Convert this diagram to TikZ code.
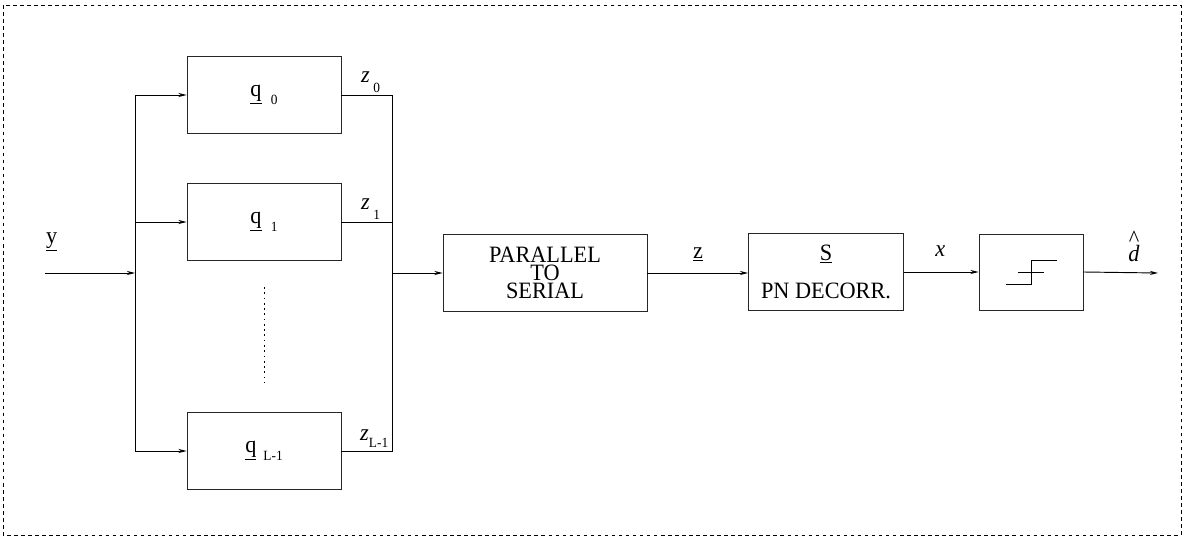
\documentclass[tikz,border=0pt]{standalone}
\usepackage{fontspec}
\setmainfont{Liberation Serif}[FakeStretch=0.95]
\usetikzlibrary{arrows.meta}

\newcommand{\sbs}[1]{{\fontsize{12}{12}\selectfont #1}}

\begin{document}
\begin{tikzpicture}[
        x=0.03cm, y=-0.03cm,
        font=\fontsize{20}{15.5}\selectfont,
        filt/.style={rectangle, draw=black!85, line width=0.8pt,
            minimum width=4.62cm, minimum height=2.31cm, inner sep=0pt},
        blk/.style={rectangle, draw=black!85, line width=0.8pt,
            align=center, minimum height=2.3cm, inner sep=0pt},
        lbl/.style={anchor=base west, inner sep=0pt},
        wire/.style={line width=0.8pt},
        arr/.style={-{Stealth[length=7pt,width=3.5pt]}, line width=0.8pt}
    ]
    \useasboundingbox (0,0) rectangle (1186,543);
    \draw[dash pattern=on 3pt off 3pt, line width=0.6pt] (3,5) rectangle (1181,535);

    % filter bank
    \node[filt] (q0) at (264,95)  {\underline{q}\hspace{8pt}\raisebox{-7pt}{\sbs{0}}};
    \node[filt] (q1) at (264,222) {\underline{q}\hspace{8pt}\raisebox{-7pt}{\sbs{1}}};
    \node[filt] (qL) at (264,451) {\underline{q}\hspace{6pt}\raisebox{-7pt}{\sbs{L-1}}};
    \coordinate (dtop) at (264,287);
    \coordinate (dbot) at (264,382);
    \draw[dash pattern=on 1.5pt off 3pt, line width=0.7pt] (dtop) -- (dbot);

    % serial chain
    \node[blk, minimum width=6.12cm] (ps) at (545,273) {PARALLEL\\TO\\SERIAL};
    \node[blk, minimum width=4.65cm] (dec) at (826,272) {\underline{S}\\[17pt]PN DECORR.};
    \node[blk, minimum width=3.12cm, minimum height=2.28cm] (slc) at (1031,272) {};

    % slicer symbol
    \draw[line width=0.7pt] (1006,284) -- (1031,284) -- (1031,260) -- (1057,260);
    \draw[line width=0.6pt] (1018,272) -- (1044,272);

    \coordinate (yin) at (45,273);
    \coordinate (lb)  at (135,273);
    \coordinate (rb)  at (392,273);
    \coordinate (dout) at (1158,273);

    \draw[arr] (yin) -- (lb);
    \draw[arr] (lb) |- (q0.west);
    \draw[arr] (lb) |- (q1.west);
    \draw[arr] (lb) |- (qL.west);
    \draw[wire] (q0.east) -| (rb);
    \draw[wire] (q1.east) -| (rb);
    \draw[wire] (qL.east) -| (rb);
    \draw[arr] (rb) -- (ps.west);
    \draw[arr] (ps.east) -- (ps.east -| dec.west);
    \draw[arr] (dec.east) -- (dec.east -| slc.west);
    \draw[arr] (slc.east) -- (dout);

    % labels
    \node[lbl] (ylab) at (46,244) {\underline{y}};
    \node[lbl] (z0) at (361,83)  {\textit{z}\hspace{3pt}\raisebox{-8pt}{\sbs{0}}};
    \node[lbl] (z1) at (361,210) {\textit{z}\hspace{3pt}\raisebox{-8pt}{\sbs{1}}};
    \node[lbl] (zL) at (360,440) {\textit{z}\raisebox{-6pt}{\sbs{L-1}}};
    \node[lbl] (zlab) at (693,259) {\underline{z}};
    \node[lbl] (xlab) at (935,257) {\textit{x}};
    \node[anchor=south, inner sep=0pt, align=center] (dlab) at (1134,262) {\textasciicircum\\[-3pt]\textit{d}};
\end{tikzpicture}
\end{document}
